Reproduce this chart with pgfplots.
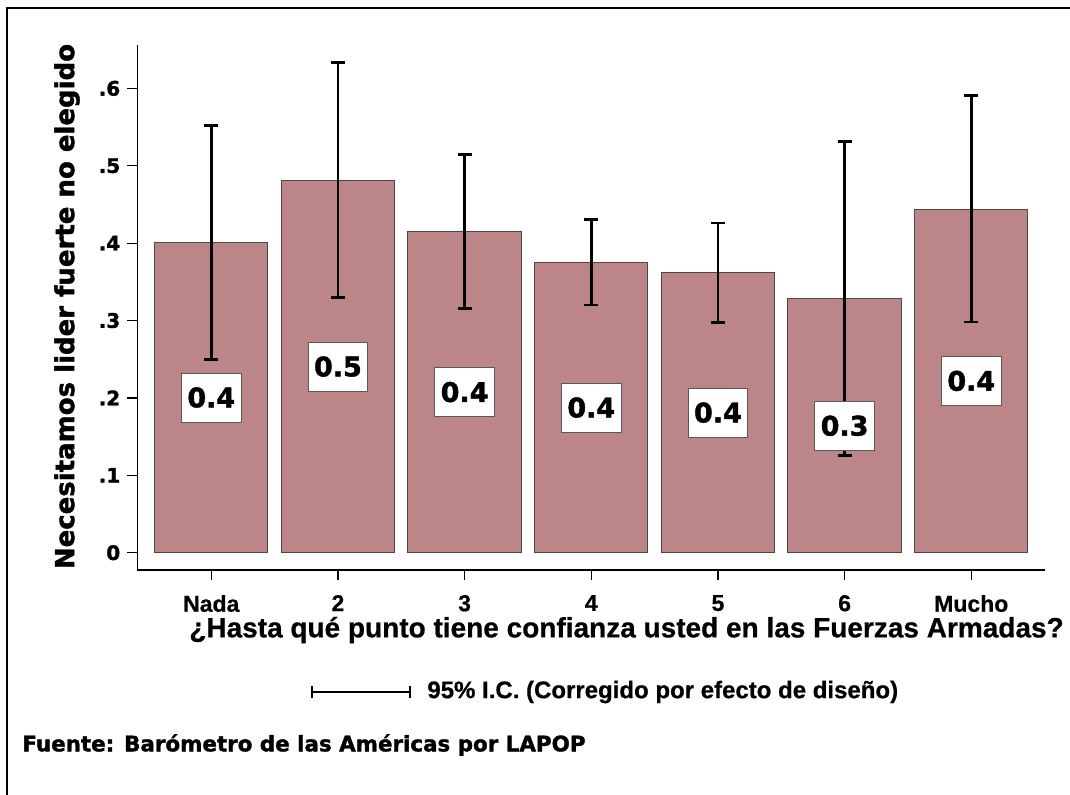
\documentclass[border=0pt]{standalone}
\usepackage{fontspec}
\setmainfont{Liberation Sans}[BoldFeatures={FakeBold=0.6}]
\newfontfamily\heavy{DejaVu Sans}[BoldFeatures={FakeBold=1.6}]
\usepackage{pgfplots}
\pgfplotsset{compat=1.18}
\usepackage{pgfplotstable}

\definecolor{barfill}{RGB}{188,133,135}
\definecolor{baredge}{RGB}{80,70,70}

% mean, upper and lower half-widths of the 95% CI, label
\pgfplotstableread{
x y     ehi   elo   lab
0 0.401 0.151 0.151 0.4
1 0.481 0.152 0.151 0.5
2 0.415 0.100 0.099 0.4
3 0.375 0.056 0.055 0.4
4 0.362 0.064 0.065 0.4
5 0.328 0.203 0.202 0.3
6 0.444 0.147 0.146 0.4
}\datatable

\begin{document}
\begin{tikzpicture}
\useasboundingbox (0pt,0pt) rectangle (535pt,-397pt);
% outer frame (runs off the right and bottom edges)
\draw[line width=1.2pt] (3.5pt,-410pt) -- (3.5pt,-4pt) -- (545pt,-4pt);

\begin{axis}[
    at={(68.65pt,-285pt)}, anchor=south west,
    scale only axis, width=453.85pt, height=262.5pt,
    xmin=-0.584, xmax=6.582,
    ymin=-0.0224, ymax=0.656,
    axis x line*=bottom, axis y line*=left,
    axis line style={-, black, line width=0.6pt},
    tick align=outside, major tick length=5pt,
    tick style={black, line width=0.6pt},
    xtick={0,...,6},
    xticklabels={Nada,2,3,4,5,6,Mucho},
    ytick={0,0.1,0.2,0.3,0.4,0.5,0.6},
    yticklabels={0,.1,.2,.3,.4,.5,.6},
    xticklabel style={font=\bfseries\fontsize{11.5}{13}\selectfont, yshift=-4pt},
    yticklabel style={font=\heavy\bfseries\fontsize{10}{12}\selectfont},
    clip=false,
]
\addplot[ybar, bar width=0.895, fill=barfill, draw=baredge, line width=0.5pt,
    error bars/.cd, y dir=both, y explicit,
    error bar style={black, line width=1.4pt},
    error mark options={black, line width=1.4pt, mark size=3.5pt, rotate=90}]
    table[x=x, y=y, y error plus=ehi, y error minus=elo] {\datatable};
\addplot[draw=none, mark=none, nodes near coords, point meta=explicit symbolic,
    nodes near coords align=center,
    every node near coord/.append style={anchor=center, fill=white,
        draw=gray!70!black, line width=0.5pt, inner xsep=3pt,
        minimum height=24.5pt, text=black,
        font=\heavy\bfseries\fontsize{13.5}{15}\selectfont}]
    table[x=x, y expr=\thisrow{y}/2, meta=lab] {\datatable};
\end{axis}

\node[rotate=90, font=\heavy\bfseries\fontsize{13}{15}\selectfont]
    at (33.5pt,-153.25pt) {Necesitamos lider fuerte no elegido};
\node[font=\bfseries\fontsize{14}{16}\selectfont]
    at (313.25pt,-315pt) {¿Hasta qué punto tiene confianza usted en las Fuerzas Armadas?};
% CI legend
\draw[line width=1.2pt] (156pt,-346pt) -- (205pt,-346pt);
\draw[line width=1.2pt] (156pt,-343pt) -- (156pt,-349pt);
\draw[line width=1.2pt] (205pt,-343pt) -- (205pt,-349pt);
\node[anchor=west, inner sep=0pt, font=\bfseries\fontsize{12}{14}\selectfont]
    at (213.5pt,-346pt) {95\% I.C. (Corregido por efecto de diseño)};
\node[anchor=west, inner sep=0pt, font=\heavy\bfseries\fontsize{10.7}{13}\selectfont]
    at (11pt,-372.5pt) {Fuente: Barómetro de las Américas por LAPOP};
\end{tikzpicture}
\end{document}
